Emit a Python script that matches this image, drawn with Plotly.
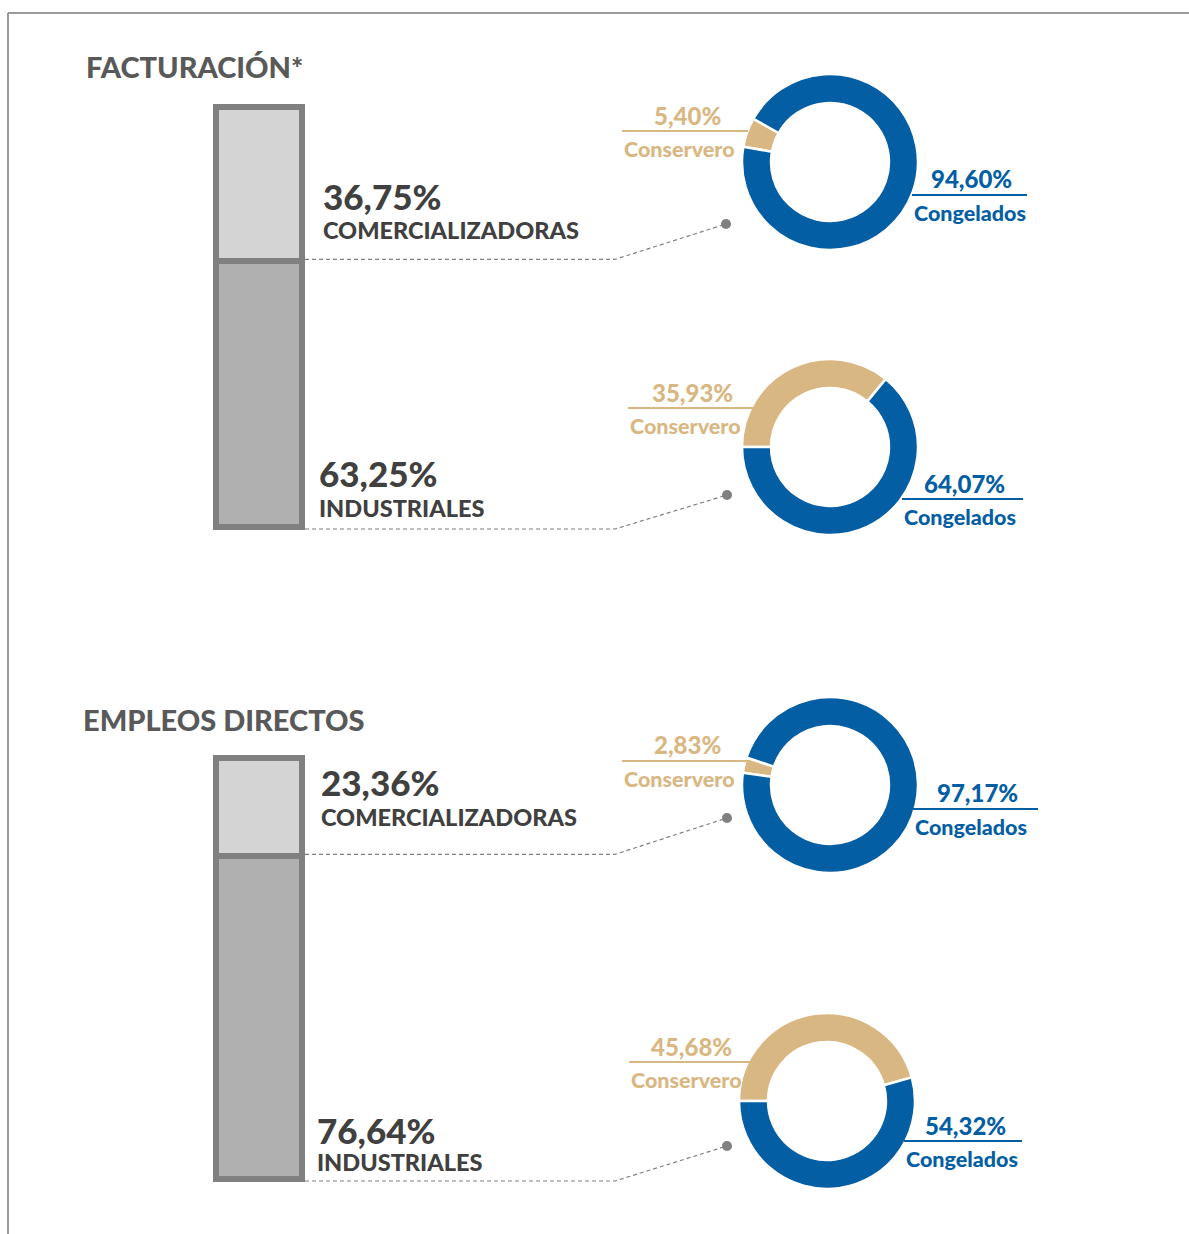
import plotly.graph_objects as go

# ---------------- data ----------------
section_titles = ["FACTURACIÓN*", "EMPLEOS DIRECTOS"]
bar_categories = ["COMERCIALIZADORAS", "INDUSTRIALES"]
facturacion_bar = [36.75, 63.25]
empleos_bar = [23.36, 76.64]

donut_categories = ["Conservero", "Congelados"]
fact_comercializadoras = [5.40, 94.60]
fact_industriales = [35.93, 64.07]
empl_comercializadoras = [2.83, 97.17]
empl_industriales = [45.68, 54.32]

# ---------------- style / layout ----------------
W, H = 1189, 1234
FONT = "Lato"
WEIGHT = 900
C_TITLE = "#595959"
C_TEXT = "#404040"
C_LIGHT = "#D4D4D4"
C_DARK = "#B0B0B0"
C_EDGE = "#808080"
C_TAN = "#D9B783"
C_BLUE = "#045EA4"
C_FRAME = "#9A9A9A"


def px(x):
    return x / W


def py(y):
    return 1 - y / H


def fmt(v):
    return f"{v:.2f}".replace(".", ",") + "%"


def fnt(size, color):
    return dict(family=FONT, size=size, color=color, weight=WEIGHT)


fig = go.Figure()

# bar sections: data edges in pixels (outer border is 3px outside)
bar_x = (216, 302)
PAD = 20  # extra room around the bar inside the axis domain so the border is not clipped
bar_sections = [
    dict(title=section_titles[0], values=facturacion_bar, y=(107, 527), title_xy=(84, 67),
         num_y=(196, 473), lab_y=(230, 508), lab_x=(321, 317), axis=("x", "y")),
    dict(title=section_titles[1], values=empleos_bar, y=(758, 1179), title_xy=(81, 719),
         num_y=(782, 1130), lab_y=(817, 1162), lab_x=(319, 315), axis=("x2", "y2")),
]

annotations = []
shapes = []

xspan = bar_x[1] - bar_x[0]
xpad_units = PAD / xspan
for i, sec in enumerate(bar_sections):
    xa, ya = sec["axis"]
    com, ind = sec["values"]
    y_top, y_bot = sec["y"]
    ypad_units = PAD * 100 / (y_bot - y_top)
    # industriales at bottom, comercializadoras on top
    fig.add_trace(go.Bar(x=[0], y=[ind], width=1, xaxis=xa, yaxis=ya,
                         marker=dict(color=C_DARK, line=dict(color=C_EDGE, width=6)),
                         cliponaxis=False, hoverinfo="skip", name=bar_categories[1]))
    fig.add_trace(go.Bar(x=[0], y=[com], width=1, xaxis=xa, yaxis=ya,
                         marker=dict(color=C_LIGHT, line=dict(color=C_EDGE, width=6)),
                         cliponaxis=False, hoverinfo="skip", name=bar_categories[0]))
    suffix = "" if i == 0 else "2"
    fig.update_layout(**{
        "xaxis" + suffix: dict(domain=[px(bar_x[0] - PAD), px(bar_x[1] + PAD)],
                               range=[-0.5 - xpad_units, 0.5 + xpad_units],
                               visible=False, fixedrange=True, anchor="y" + suffix),
        "yaxis" + suffix: dict(domain=[py(y_bot + PAD), py(y_top - PAD)],
                               range=[-ypad_units, 100 + ypad_units],
                               visible=False, fixedrange=True, anchor="x" + suffix),
    })
    annotations.append(dict(x=px(sec["title_xy"][0]), y=py(sec["title_xy"][1]), xref="paper", yref="paper",
                            text=sec["title"], showarrow=False, xanchor="left", yanchor="middle",
                            font=fnt(29, C_TITLE)))
    for j, (val, cat) in enumerate(zip(sec["values"], bar_categories)):
        annotations.append(dict(x=px(sec["lab_x"][j]), y=py(sec["num_y"][j]), xref="paper", yref="paper",
                                text=fmt(val), showarrow=False, xanchor="left", yanchor="middle",
                                font=fnt(35, C_TEXT)))
        annotations.append(dict(x=px(sec["lab_x"][j]), y=py(sec["lab_y"][j]), xref="paper", yref="paper",
                                text=cat, showarrow=False, xanchor="left", yanchor="middle",
                                font=fnt(23.5, C_TEXT)))

# donuts
donut_values = [fact_comercializadoras, fact_industriales, empl_comercializadoras, empl_industriales]
donut_layout = [
    dict(center=(830, 162), rot=280, tan=(622, 748, 131), blue=(912, 1027, 195), dot=(726, 224)),
    dict(center=(830, 447), rot=270, tan=(628, 753, 408), blue=(902, 1023, 499), dot=(727, 495)),
    dict(center=(830, 785), rot=278, tan=(622, 748, 761), blue=(913, 1038, 809), dot=(727, 818)),
    dict(center=(827, 1101), rot=270, tan=(629, 750, 1062), blue=(904, 1022, 1141), dot=(727, 1146)),
]
R = 88
for vals, d in zip(donut_values, donut_layout):
    cx, cy = d["center"]
    fig.add_trace(go.Pie(values=vals, labels=donut_categories, sort=False, direction="clockwise", rotation=d["rot"],
                         hole=0.67, textinfo="none", hoverinfo="label+percent",
                         marker=dict(colors=[C_TAN, C_BLUE], line=dict(color="white", width=2.5)),
                         domain=dict(x=[px(cx - R), px(cx + R)], y=[py(cy + R), py(cy - R)]), showlegend=False))
    for (x0, x1, ly), val, cat, col in [(d["tan"], vals[0], donut_categories[0], C_TAN),
                                        (d["blue"], vals[1], donut_categories[1], C_BLUE)]:
        shapes.append(dict(type="line", xref="paper", yref="paper", x0=px(x0), x1=px(x1), y0=py(ly), y1=py(ly),
                           line=dict(color=col, width=2)))
        annotations.append(dict(x=px((x0 + x1) / 2 + 2), y=py(ly - 16), xref="paper", yref="paper",
                                text=fmt(val), showarrow=False, xanchor="center", yanchor="middle",
                                font=fnt(24, col)))
        annotations.append(dict(x=px(x0), y=py(ly + 18), xref="paper", yref="paper",
                                text=cat, showarrow=False, xanchor="left", yanchor="middle",
                                font=fnt(21.5, col)))

# leader lines from bar boundaries to donut dots
bend_x = 615
for s, sec in enumerate(bar_sections):
    y_top, y_bot = sec["y"]
    ind = sec["values"][1]
    boundaries = [ind, 0]
    for k, b in enumerate(boundaries):
        d = donut_layout[2 * s + k]
        ypix = y_bot - (b / 100) * (y_bot - y_top)
        ypix += 2 if k == 1 else -2
        shapes.append(dict(type="path", xref="paper", yref="paper",
                           path=f"M {px(305)},{py(ypix)} L {px(bend_x)},{py(ypix)} L {px(d['dot'][0])},{py(d['dot'][1])}",
                           line=dict(color=C_EDGE, width=1.2, dash="4px,3px")))
        shapes.append(dict(type="circle", xref="paper", yref="paper",
                           x0=px(d["dot"][0] - 5), x1=px(d["dot"][0] + 5), y0=py(d["dot"][1] + 5), y1=py(d["dot"][1] - 5),
                           fillcolor=C_EDGE, line=dict(width=0)))

# frame (top and left)
shapes.append(dict(type="line", xref="paper", yref="paper", x0=px(8), x1=1, y0=py(13), y1=py(13),
                   line=dict(color=C_FRAME, width=2)))
shapes.append(dict(type="line", xref="paper", yref="paper", x0=px(8), x1=px(8), y0=py(13), y1=0,
                   line=dict(color=C_FRAME, width=2)))

fig.update_layout(width=W, height=H, margin=dict(l=0, r=0, t=0, b=0), barmode="stack", bargap=0,
                  paper_bgcolor="white", plot_bgcolor="rgba(0,0,0,0)", showlegend=False,
                  annotations=annotations, shapes=shapes, font=dict(family=FONT))

fig.write_html("out.html", config={"displayModeBar": False},
               post_script="document.body.style.margin='0';document.body.style.overflow='hidden';")
